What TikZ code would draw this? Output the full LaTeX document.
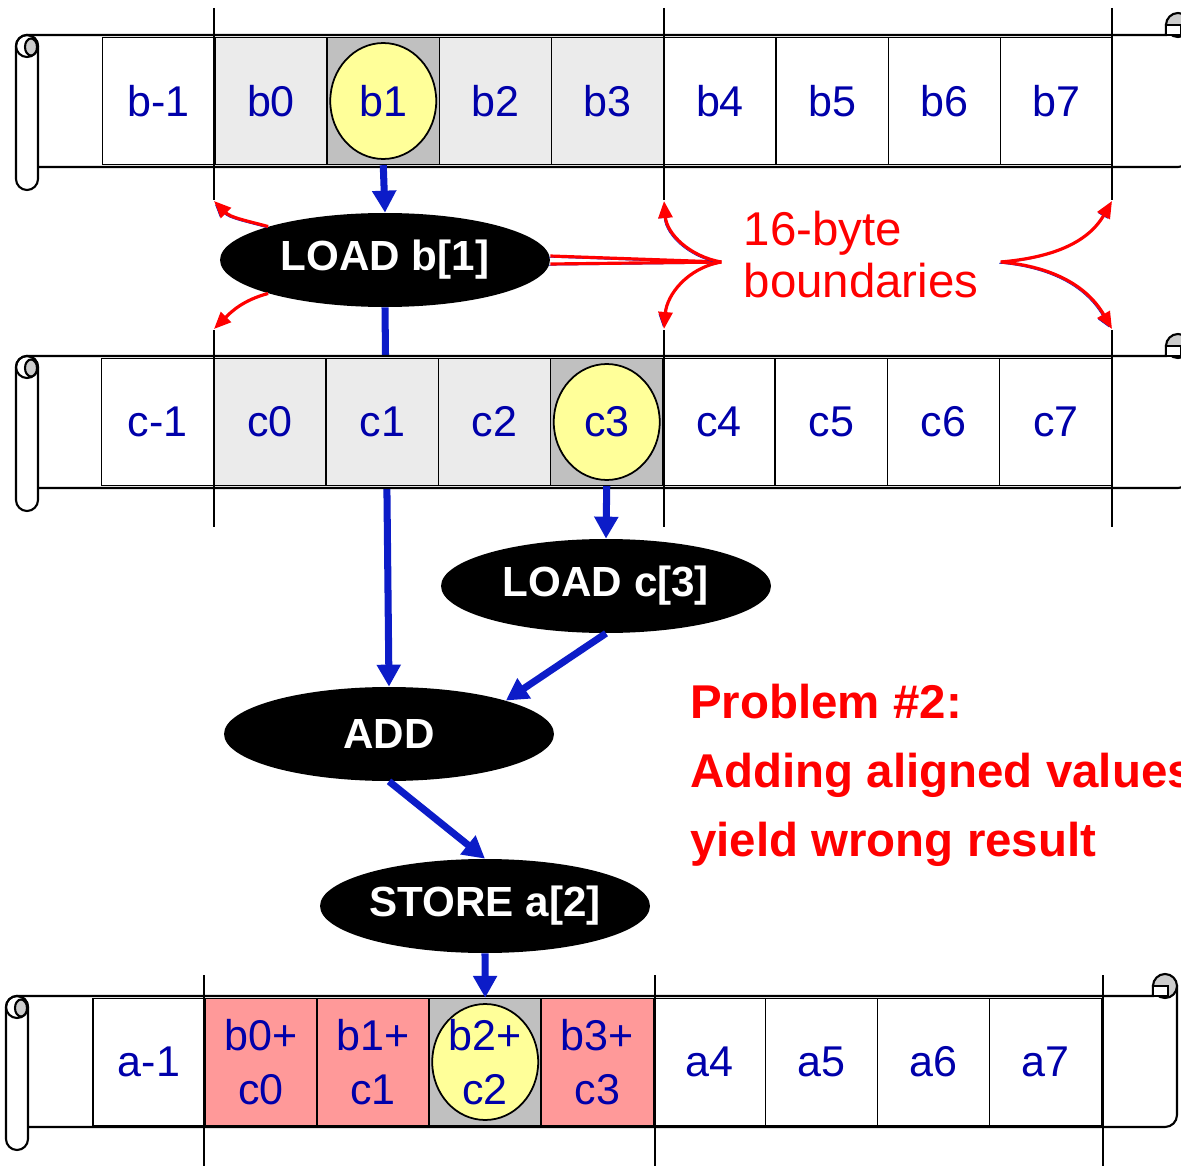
\documentclass[tikz,border=0pt]{standalone}
\usepackage{fontspec}
\setmainfont{Liberation Sans}
\usetikzlibrary{
    positioning,
    arrows.meta,
    shapes.geometric,
    calc,
    backgrounds,
}
\definecolor{cellblue}{RGB}{0,0,170}
\definecolor{flowblue}{RGB}{12,28,200}
\definecolor{linegray}{RGB}{235,235,235}
\definecolor{spotgray}{RGB}{192,192,192}
\definecolor{spotyellow}{RGB}{255,255,153}
\definecolor{sumpink}{RGB}{255,153,153}
\definecolor{curlgray}{RGB}{204,204,204}
\tikzset{
    % Array cells
    cell/.style={rectangle, draw, line width=0.8pt, fill=white, minimum width=2.24cm,
                 minimum height=2.54cm, inner sep=0pt, align=center, text=cellblue,
                 font=\fontsize{24.5}{31}\selectfont},
    line cell/.style={cell, fill=linegray},
    sum cell/.style={cell, fill=sumpink},
    spot cell/.style={cell, fill=spotgray,
                 path picture={\draw[line width=1pt, fill=spotyellow]
                 (path picture bounding box.center) ellipse (1.06cm and 1.16cm);}},
    % Scroll and boundary lines
    scroll/.style={line width=1.2pt, fill=white},
    bound/.style={line width=1.2pt},
    % Operations
    op/.style={ellipse, fill=black, text=white, minimum width=6.6cm, minimum height=1.88cm,
               inner sep=0pt, font=\fontsize{24}{28}\selectfont\bfseries},
    % Arrow styles
    flow/.style={-{Triangle[length=0.44cm, width=0.46cm]}, line width=4pt, flowblue},
    note/.style={line width=1.8pt, red,
                 preaction={draw=flowblue, transform canvas={shift={(-0.7pt,-0.7pt)}}}},
    note arrow/.style={note, -{Triangle[length=0.34cm, width=0.28cm]}},
}

\begin{document}
\begin{tikzpicture}[x=0.02cm, y=-0.02cm]
    \useasboundingbox (0,0) rectangle (1181,1166);
    \clip (0,0) rectangle (1181,1166);

    % Scrolls
    \foreach \lx/\ty/\rx/\by in {27/35/1190/167, 27/356/1190/488, 17/996/1177/1127} {
        \draw[scroll] (\lx,\ty) -- (\rx-24,\ty) -- (\rx-24,\ty-10) -- (\rx,\ty-10) -- (\rx,\by-12)
            arc[start angle=0, end angle=-90, radius=0.24cm] -- (\lx,\by) -- cycle;
        \draw[line width=1.2pt, fill=curlgray] (\rx-12,\ty-10) circle (0.24cm);
        \draw[scroll] (\rx-24,\ty-10) rectangle (\rx-9,\ty);
        \draw[scroll, rounded corners=0.22cm] (\lx-11,\ty) rectangle (\lx+11,\by+23);
        \draw[line width=1.2pt] (\lx,\ty+11) circle (0.22cm);
        \draw[line width=1.2pt, fill=curlgray] (\lx+4,\ty+12) ellipse (0.12cm and 0.17cm);
    }

    % Array b
    \foreach \i/\sty in {-1/cell, 0/line cell, 1/spot cell, 2/line cell, 3/line cell,
                         4/cell, 5/cell, 6/cell, 7/cell}
        \node[\sty] (b\i) at ({271+112.25*\i}, 101) {b\i};

    % Array c
    \foreach \i/\sty in {-1/cell, 0/line cell, 1/line cell, 2/line cell, 3/spot cell,
                         4/cell, 5/cell, 6/cell, 7/cell}
        \node[\sty] (c\i) at ({270+112.25*\i}, 422) {c\i};

    % Array a
    \node[cell] (a-1) at (149, 1062) {a-1};
    \foreach \i/\sty in {0/sum cell, 1/sum cell, 2/spot cell, 3/sum cell}
        \node[\sty] (a\i) at ({261+112.1*\i}, 1062) {b\i+\\c\i};
    \foreach \i in {4,...,7}
        \node[cell] (a\i) at ({261+112.1*\i}, 1062) {a\i};

    % 16-byte boundaries
    \foreach \x [count=\k] in {214, 664, 1112} {
        \draw[bound] (\x,8) -- (\x,200);
        \draw[bound] (\x,330) -- (\x,527);
        \coordinate (bend\k) at (\x,201);
        \coordinate (cend\k) at (\x,329);
    }
    \foreach \x in {204, 655, 1103}
        \draw[bound] (\x,975) -- (\x,1166);

    % Operations
    \node[op] (loadb) at (385,260) {LOAD b[1]};
    \node[op] (loadc) at (606,586) {LOAD c[3]};
    \node[op] (add) at (389,734) {ADD};
    \node[op] (store) at (485,906) {STORE a[2]};

    % Data flow
    \draw[flow] (b1.south) -- (loadb.north);
    \begin{scope}[on background layer]
        \draw[flow] (loadb.south) -- (add.north);
    \end{scope}
    \draw[flow] (c3.south) -- (loadc.north);
    \draw[flow] (loadc.south) -- (add.north east);
    \draw[flow] (add.south) -- (store.north);
    \draw[flow] (store.south) -- (a2.north);

    % Boundary note
    \node[text=red, align=left, inner xsep=0.44cm, inner ysep=0pt,
          font=\fontsize{27}{29.6}\selectfont] (bounds) at (861,255) {16-byte\\boundaries};
    \coordinate (bl) at ([yshift=-0.14cm]bounds.west);
    \coordinate (br) at ([yshift=-0.14cm]bounds.east);
    \draw[note] (bl) -- ([yshift=0.08cm]loadb.east);
    \draw[note] (bl) -- ([yshift=-0.08cm]loadb.east);
    \draw[note arrow] (loadb.north west) to[out=165, in=-45] (bend1);
    \draw[note arrow] (loadb.south west) to[out=195, in=45] (cend1);
    \draw[note arrow] (bl) to[out=170, in=-85] (bend2);
    \draw[note arrow] (bl) to[out=190, in=85] (cend2);
    \draw[note arrow] (br) to[out=5, in=-120] (bend3);
    \draw[note arrow] (br) to[out=-5, in=120] (cend3);

    % Problem statement
    \node[anchor=north west, inner sep=0pt, align=left, text=red,
          font=\fontsize{27}{39.2}\selectfont\bfseries] (problem) at (690,684)
          {Problem \#2:\\Adding aligned values\\yield wrong result};
\end{tikzpicture}
\end{document}
